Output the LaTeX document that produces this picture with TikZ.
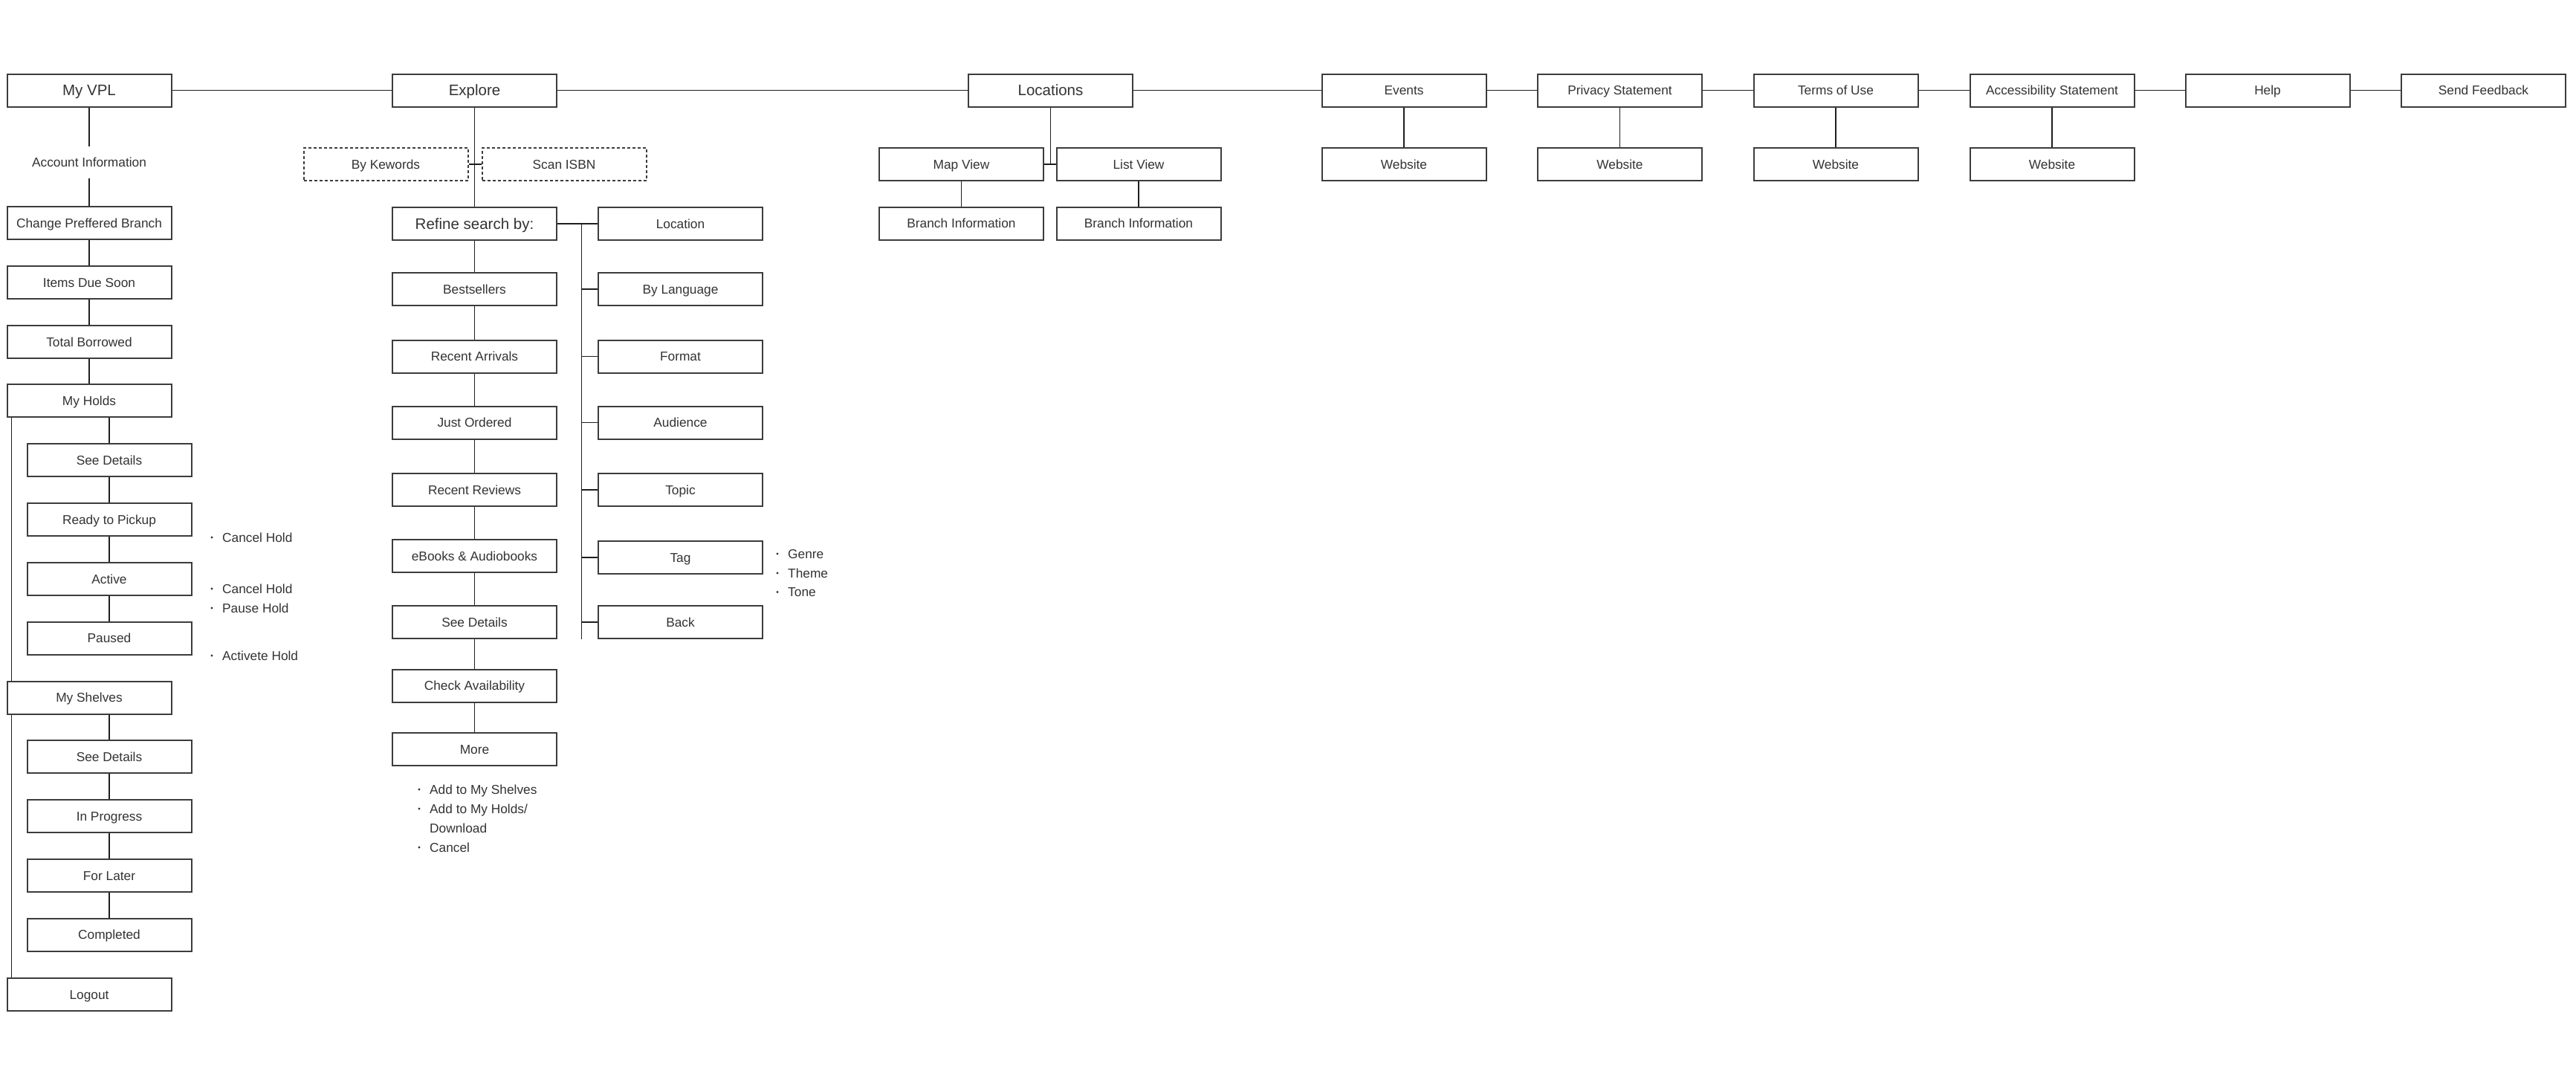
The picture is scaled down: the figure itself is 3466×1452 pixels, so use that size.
\documentclass[tikz,border=0pt]{standalone}
\usepackage{fontspec}
\setmainfont{Liberation Sans}
\definecolor{boxc}{HTML}{3C3C3C}
\definecolor{txt}{HTML}{333333}
\definecolor{linec}{HTML}{1E1E1E}
\begin{document}
\begin{tikzpicture}[x=1pt,y=-1pt,
  box/.style={draw=boxc, line width=2pt, fill=white, minimum width=221pt, minimum height=44pt, inner sep=0pt, font=\fontsize{17.3}{20}\selectfont, text=txt, text height=16pt, text depth=3.6pt},
  bigbox/.style={box, font=\fontsize{20.5}{24}\selectfont, text height=18.9pt, text depth=4.2pt},
  dbox/.style={box, dash pattern=on 4pt off 3pt},
  link/.style={line width=1.3pt, draw=linec},
  item/.style={anchor=west, inner sep=0pt, font=\fontsize{17.3}{20}\selectfont, text=txt, text height=16pt, text depth=3.6pt},
  plain/.style={inner sep=0pt, font=\fontsize{17.3}{20}\selectfont, text=txt, minimum height=43pt, text height=16pt, text depth=3.6pt}
]
\useasboundingbox (0,0) rectangle (3466,1452);
\fill[white] (0,0) rectangle (3466,1452);

% ---------- top row ----------
\node[bigbox] (vpl) at (120,121.5) {My VPL};
\node[bigbox] (explore) at (638.5,121.5) {Explore};
\node[bigbox] (locations) at (1413.5,121.5) {Locations};
\node[box] (events) at (1889,121.5) {Events};
\node[box] (privacy) at (2179.5,121.5) {Privacy Statement};
\node[box] (terms) at (2470,121.5) {Terms of Use};
\node[box] (access) at (2761,121.5) {Accessibility Statement};
\node[box] (help) at (3051,121.5) {Help};
\node[box] (feedback) at (3341.5,121.5) {Send Feedback};

\draw[link] (vpl) -- (explore);
\draw[link] (explore) -- (locations);
\draw[link] (locations) -- (events);
\draw[link] (events) -- (privacy);
\draw[link] (privacy) -- (terms);
\draw[link] (terms) -- (access);
\draw[link] (access) -- (help);
\draw[link] (help) -- (feedback);

% websites
\node[box] (web1) at (1889,221) {Website};
\node[box] (web2) at (2179.5,221) {Website};
\node[box] (web3) at (2470,221) {Website};
\node[box] (web4) at (2761,221) {Website};
\draw[link] (events) -- (web1);
\draw[link] (privacy) -- (web2);
\draw[link] (terms) -- (web3);
\draw[link] (access) -- (web4);

% ---------- My VPL column ----------
\node[plain] (acct) at (120,218.5) {Account Information};
\node[box] (pref) at (120,300) {Change Preffered Branch};
\node[box] (items) at (120,380) {Items Due Soon};
\node[box] (total) at (120,460) {Total Borrowed};
\node[box] (holds) at (120,539) {My Holds};
\node[box] (hsd) at (147,619) {See Details};
\node[box] (ready) at (147,699) {Ready to Pickup};
\node[box] (active) at (147,779) {Active};
\node[box] (paused) at (147,858.5) {Paused};
\node[box] (shelves) at (120,938.5) {My Shelves};
\node[box] (ssd) at (147,1018) {See Details};
\node[box] (inprog) at (147,1098) {In Progress};
\node[box] (later) at (147,1178) {For Later};
\node[box] (done) at (147,1257.5) {Completed};
\node[box] (logout) at (120,1338) {Logout};

\draw[link] (vpl) -- (acct);
\draw[link] (acct) -- (pref);
\draw[link] (pref) -- (items);
\draw[link] (items) -- (total);
\draw[link] (total) -- (holds);
\draw[link] (hsd.north) -- (hsd.north |- holds.south);
\draw[link] (hsd) -- (ready);
\draw[link] (ready) -- (active);
\draw[link] (active) -- (paused);
\draw[link] ([xshift=7pt]holds.south west) -- ([xshift=7pt]shelves.north west);
\draw[link] ([xshift=7pt]shelves.south west) -- ([xshift=7pt]logout.north west);
\draw[link] (ssd.north) -- (ssd.north |- shelves.south);
\draw[link] (ssd) -- (inprog);
\draw[link] (inprog) -- (later);
\draw[link] (later) -- (done);

\node[item] (hb1) at (299,723) {Cancel Hold};
\node[item] (hb2) at (299,792) {Cancel Hold};
\node[item] (hb3) at (299,818) {Pause Hold};
\node[item] (hb4) at (299,882) {Activete Hold};
\foreach \n in {hb1,hb2,hb3,hb4}
  \fill[txt] ([xshift=-14pt]\n.west) circle (1.6pt);

% ---------- Explore column ----------
\node[dbox] (kw) at (519,221) {By Kewords};
\node[dbox] (isbn) at (759,221) {Scan ISBN};
\draw[link] (kw) -- (isbn);

\node[bigbox] (refine) at (638.5,301) {Refine search by:};
\node[box] (best) at (638.5,389) {Bestsellers};
\node[box] (arrivals) at (638.5,479.5) {Recent Arrivals};
\node[box] (ordered) at (638.5,568.5) {Just Ordered};
\node[box] (reviews) at (638.5,659) {Recent Reviews};
\node[box] (ebooks) at (638.5,748) {eBooks \& Audiobooks};
\node[box] (esd) at (638.5,837) {See Details};
\node[box] (check) at (638.5,922.5) {Check Availability};
\node[box] (more) at (638.5,1008) {More};

\draw[link] (explore) -- (refine);
\draw[link] (refine) -- (best);
\draw[link] (best) -- (arrivals);
\draw[link] (arrivals) -- (ordered);
\draw[link] (ordered) -- (reviews);
\draw[link] (reviews) -- (ebooks);
\draw[link] (ebooks) -- (esd);
\draw[link] (esd) -- (check);
\draw[link] (check) -- (more);

\node[item] (mb1) at (578,1062) {Add to My Shelves};
\node[item] (mb2) at (578,1088) {Add to My Holds/};
\node[item] (mb3) at (578,1114) {Download};
\node[item] (mb4) at (578,1140) {Cancel};
\foreach \n in {mb1,mb2,mb4}
  \fill[txt] ([xshift=-14pt]\n.west) circle (1.6pt);

% refine options
\node[box] (loc) at (915.5,301) {Location};
\node[box] (lang) at (915.5,389) {By Language};
\node[box] (format) at (915.5,479.5) {Format};
\node[box] (aud) at (915.5,568.5) {Audience};
\node[box] (topic) at (915.5,659) {Topic};
\node[box] (tag) at (915.5,750) {Tag};
\node[box] (back) at (915.5,837) {Back};

\coordinate (bustop) at (782.5,301);
\coordinate (busbot) at (782.5,860);
\draw[link] (refine) -- (loc);
\draw[link] (bustop) -- (busbot);
\foreach \n in {lang,format,aud,topic,tag,back}
  \draw[link] (\n.west) -- (\n.west -| bustop);

\node[item] (tb1) at (1060,745) {Genre};
\node[item] (tb2) at (1060,771) {Theme};
\node[item] (tb3) at (1060,796.5) {Tone};
\foreach \n in {tb1,tb2,tb3}
  \fill[txt] ([xshift=-14pt]\n.west) circle (1.6pt);

% ---------- Locations ----------
\node[box] (map) at (1293.5,221) {Map View};
\node[box] (list) at (1532,221) {List View};
\node[box] (br1) at (1293.5,300.5) {Branch Information};
\node[box] (br2) at (1532,300.5) {Branch Information};
\draw[link] (locations.south) -- (locations.south |- map.east);
\draw[link] (map) -- (list);
\draw[link] (map) -- (br1);
\draw[link] (list) -- (br2);
\end{tikzpicture}
\end{document}
